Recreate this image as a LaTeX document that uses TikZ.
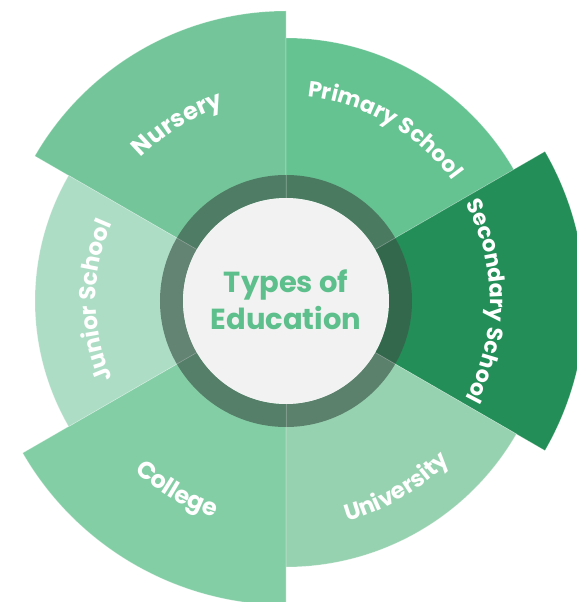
\documentclass[tikz,border=0pt]{standalone}
\usepackage{fontspec}
\setmainfont{Poppins}
\usetikzlibrary{decorations.text}

\definecolor{nurserygreen}{HTML}{74C69A}
\definecolor{primarygreen}{HTML}{65C291}
\definecolor{secondarygreen}{HTML}{238E57}
\definecolor{universitygreen}{HTML}{97D2B0}
\definecolor{collegegreen}{HTML}{84CEA6}
\definecolor{juniorgreen}{HTML}{AEDDC6}
\definecolor{titlegreen}{HTML}{5DBF8B}
\definecolor{centregrey}{HTML}{F2F2F2}
\definecolor{ringdark}{HTML}{3C5548}

\newcommand{\labelfont}[1]{\fontsize{#1}{#1}\selectfont\bfseries\color{white}}

% one slice: start angle, end angle, radius (pt), colour
\newcommand{\edusector}[4]{%
  \fill[#4, sectorline] (0,0) -- (#1:#3pt) arc[start angle=#1, end angle=#2, radius=#3pt] -- cycle;}

\tikzset{
  sectorline/.style={draw=white, draw opacity=0.3, line width=0.6pt},
  ringshade/.style={fill=ringdark, fill opacity=0.65},
  arclabel/.style 2 args={decorate, decoration={text along path, text align=center, text={|\labelfont{#2}|#1}}},
}

\begin{document}
\begin{tikzpicture}
	\useasboundingbox (-286pt,-301pt) rectangle (291pt,301pt);
	
	% slices
	\edusector{90}{150}{290}{nurserygreen}
	\edusector{30}{90}{263}{primarygreen}
	\edusector{-30}{30}{299}{secondarygreen}
	\edusector{-90}{-30}{266}{universitygreen}
	\edusector{-150}{-90}{304}{collegegreen}
	\edusector{150}{210}{251}{juniorgreen}
	
	% dark ring and centre
	\fill[ringshade, even odd rule] (0,0) circle[radius=126pt] (0,0) circle[radius=103pt];
	\foreach \a in {30,90,...,330}
		\draw[white, opacity=0.2, line width=0.6pt] (\a:103pt) -- (\a:126pt);
	\fill[centregrey] (0,0) circle[radius=103pt];
	
	\node[titlegreen, align=center, font=\fontsize{29}{37}\selectfont\bfseries] (title) at (0,1pt) {Types of\\Education};
	
	% labels on the slices
	\path[arclabel={Nursery}{24}] (161.5:204pt) arc[start angle=161.5, end angle=81.5, radius=204pt];
	\path[arclabel={Primary School}{22}] (100:205pt) arc[start angle=100, end angle=20, radius=205pt];
	\path[arclabel={Secondary School}{22}] (40:204pt) arc[start angle=40, end angle=-40, radius=204pt];
	\path[arclabel={Junior School}{23}] (220:190pt) arc[start angle=220, end angle=140, radius=190pt];
	\path[arclabel={College}{24}] (-160:228pt) arc[start angle=-160, end angle=-80, radius=228pt];
	\path[arclabel={University}{23}] (-99.5:229pt) arc[start angle=-99.5, end angle=-19.5, radius=229pt];
\end{tikzpicture}
\end{document}
